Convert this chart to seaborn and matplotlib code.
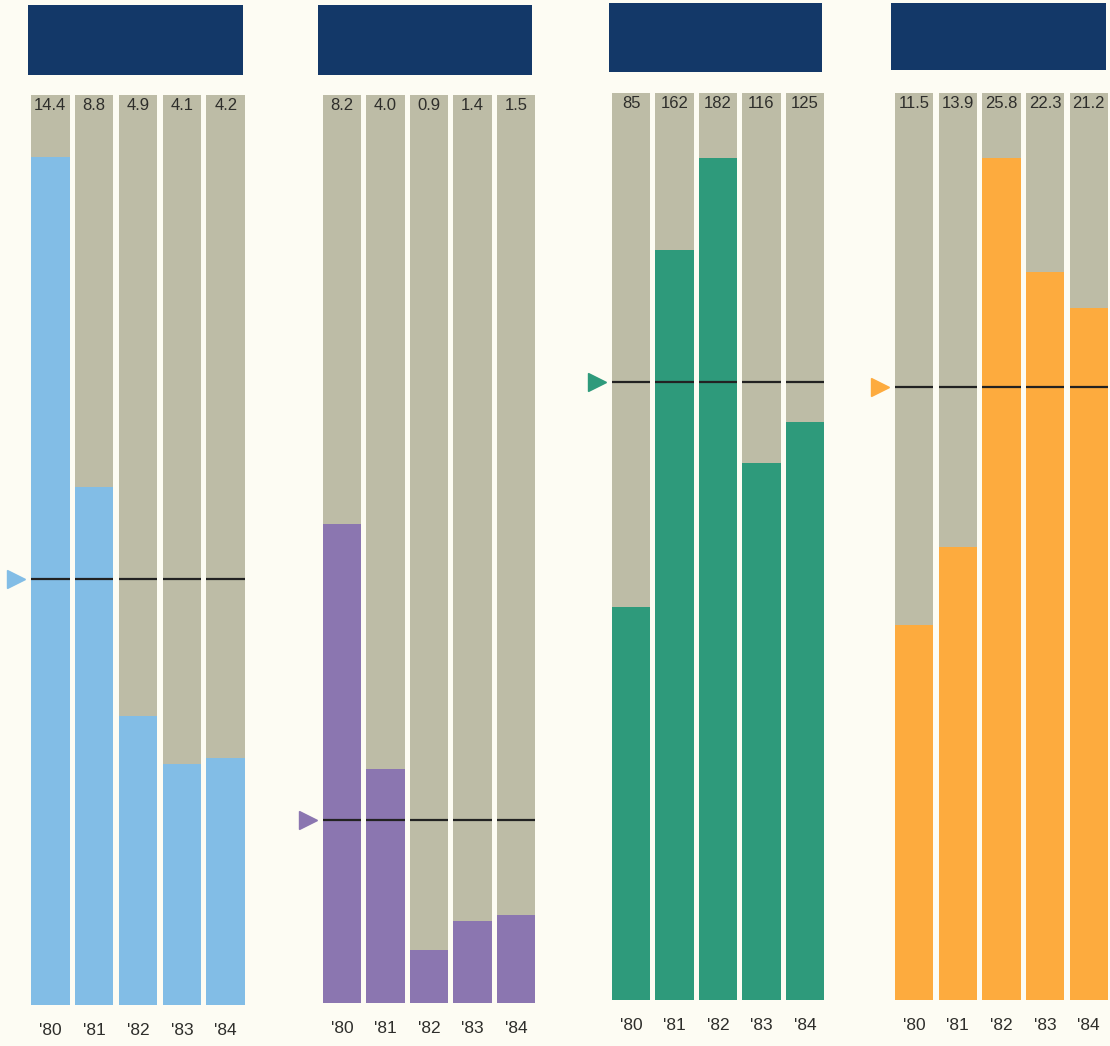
import matplotlib
matplotlib.use('Agg')
import matplotlib.pyplot as plt
import matplotlib.transforms as mtransforms
from matplotlib.patches import Rectangle
import numpy as np
import pandas as pd
import seaborn as sns

years = ["'80", "'81", "'82", "'83", "'84"]

values_blue = [14.4, 8.8, 4.9, 4.1, 4.2]
values_purple = [8.2, 4.0, 0.9, 1.4, 1.5]
values_green = [85, 162, 182, 116, 125]
values_orange = [11.5, 13.9, 25.8, 22.3, 21.2]

labels_blue = ['14.4', '8.8', '4.9', '4.1', '4.2']
labels_purple = ['8.2', '4.0', '0.9', '1.4', '1.5']
labels_green = ['85', '162', '182', '116', '125']
labels_orange = ['11.5', '13.9', '25.8', '22.3', '21.2']

# reference level marked by the triangle + line
ref_levels = [7.24, 3.14, 133.6, 18.8]
# top of the grey column in data units
col_tops = [15.45, 15.55, 196, 27.8]

bg = '#fdfcf3'
grey = '#bdbca6'
navy = '#133868'
colors = ['#82bde6', '#8b76b0', '#2e9a7b', '#fdab3e']

W, H = 1110, 1046
# pixel boxes: left, right, bottom, top
ax_boxes = [(31, 245, 1005, 95), (323, 535, 1003, 95),
            (612, 824, 1000, 93), (895, 1108, 1000, 93)]
head_boxes = [(28, 243, 75, 5), (318, 532, 75, 5),
              (609, 822, 72, 3), (891, 1106, 70, 3)]

sns.set_theme(style='white')
plt.rcParams['font.family'] = ['Liberation Sans', 'DejaVu Sans']

fig = plt.figure(figsize=(W / 100, H / 100), dpi=100, facecolor=bg)

panels = [(values_blue, labels_blue), (values_purple, labels_purple),
          (values_green, labels_green), (values_orange, labels_orange)]

bw = 0.88
for i, (vals, labs) in enumerate(panels):
    l, r, b, t = ax_boxes[i]
    ax = fig.add_axes([l / W, 1 - b / H, (r - l) / W, (b - t) / H])
    ax.set_facecolor(bg)
    df = pd.DataFrame({'year': years, 'value': vals, 'top': [col_tops[i]] * 5})

    sns.barplot(data=df, x='year', y='top', color=grey, saturation=1,
                width=bw, linewidth=0, ax=ax)
    sns.barplot(data=df, x='year', y='value', color=colors[i], saturation=1,
                width=bw, linewidth=0, ax=ax)

    ax.set_xlim(-bw / 2, len(years) - 1 + bw / 2)
    ax.set_ylim(0, col_tops[i])
    for s in ax.spines.values():
        s.set_visible(False)
    ax.set_xlabel(None)
    ax.set_ylabel(None)
    ax.set_yticks([])
    ax.tick_params(axis='x', length=0, pad=13, labelsize=12.5, labelcolor='#2e2e2b')

    # reference line over each column
    xs = np.arange(len(years))
    ax.hlines([ref_levels[i]] * len(xs), xs - bw / 2, xs + bw / 2,
              color='#222222', lw=1.6, zorder=5)
    trans = mtransforms.blended_transform_factory(ax.transAxes, ax.transData)
    ax.plot([-0.07], [ref_levels[i]], marker='>', markersize=13, color=colors[i],
            transform=trans, clip_on=False, linestyle='none')

    # value labels at the top of the columns
    for x, lab in zip(xs, labs):
        ax.annotate(lab, (x, col_tops[i]), xytext=(0, -2.5), textcoords='offset points',
                    ha='center', va='top', fontsize=12, color='#2e2e2b')

    hl, hr, hb, ht = head_boxes[i]
    fig.patches.append(Rectangle((hl / W, 1 - hb / H), (hr - hl) / W, (hb - ht) / H,
                                 transform=fig.transFigure, facecolor=navy,
                                 edgecolor='none'))

fig.savefig('out.png', dpi=100, facecolor=bg)
